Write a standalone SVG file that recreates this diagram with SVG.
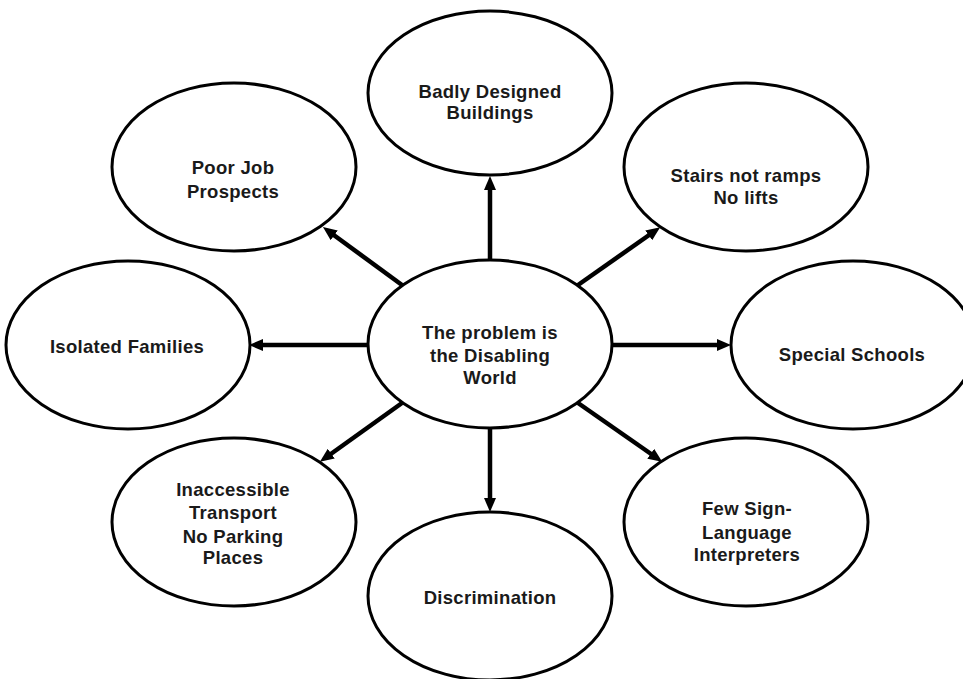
<svg xmlns="http://www.w3.org/2000/svg" width="963" height="679" viewBox="0 0 963 679">
<style>
.node ellipse{fill:#fff;stroke:#000;stroke-width:3}
.node text{font-family:"Liberation Sans",Arial,sans-serif;font-weight:bold;font-size:18.5px;fill:#1a1a1a;text-anchor:middle;letter-spacing:0.3px}
.conn line{stroke:#000;stroke-width:4.5;marker-end:url(#ah)}
</style>
<defs>
<marker id="ah" viewBox="0 0 14 12" refX="4" refY="6" markerWidth="14" markerHeight="12" markerUnits="userSpaceOnUse" orient="auto">
<path d="M0,0 L14,6 L0,12 z" fill="#000"/>
</marker>
</defs>
<rect width="963" height="679" fill="#fff"/>
<g id="n-center" class="node"><ellipse cx="490" cy="344" rx="122" ry="84"/><text x="490" y="339">The problem is</text><text x="490" y="362">the Disabling</text><text x="490" y="384">World</text></g>
<g id="n-buildings" class="node"><ellipse cx="490" cy="93" rx="122" ry="82"/><text x="490" y="98">Badly Designed</text><text x="490" y="119">Buildings</text></g>
<g id="n-job" class="node"><ellipse cx="234" cy="167" rx="122" ry="84"/><text x="233" y="174">Poor Job</text><text x="233" y="198">Prospects</text></g>
<g id="n-stairs" class="node"><ellipse cx="746" cy="167" rx="122" ry="84"/><text x="746" y="182">Stairs not ramps</text><text x="746" y="204">No lifts</text></g>
<g id="n-isolated" class="node"><ellipse cx="128" cy="345" rx="122" ry="84"/><text x="127" y="353">Isolated Families</text></g>
<g id="n-schools" class="node"><ellipse cx="853" cy="345" rx="122" ry="84"/><text x="852" y="361">Special Schools</text></g>
<g id="n-transport" class="node"><ellipse cx="234" cy="522" rx="122" ry="84"/><text x="233" y="496">Inaccessible</text><text x="233" y="519">Transport</text><text x="233" y="543">No Parking</text><text x="233" y="564">Places</text></g>
<g id="n-sign" class="node"><ellipse cx="746" cy="522" rx="122" ry="84"/><text x="747" y="515">Few Sign-</text><text x="747" y="539">Language</text><text x="747" y="561">Interpreters</text></g>
<g id="n-discrimination" class="node"><ellipse cx="490" cy="596" rx="122" ry="84"/><text x="490" y="604">Discrimination</text></g>
<g id="connectors" class="conn">
<line x1="490" y1="260" x2="490" y2="186"/>
<line x1="402" y1="285" x2="331" y2="233"/>
<line x1="578" y1="285" x2="652" y2="233"/>
<line x1="368" y1="345" x2="259" y2="345"/>
<line x1="612" y1="345" x2="721" y2="345"/>
<line x1="402" y1="403" x2="328" y2="456"/>
<line x1="578" y1="403" x2="654" y2="456"/>
<line x1="490" y1="428" x2="490" y2="502"/>
</g>
</svg>
